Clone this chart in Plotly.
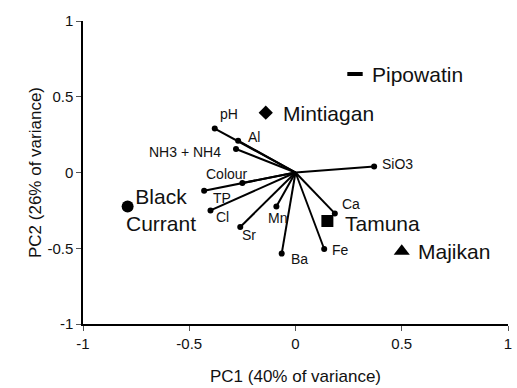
import plotly.graph_objects as go

# ---- data ----
var_names = ["pH", "Al", "NH3 + NH4", "SiO3", "Colour", "TP", "Cl", "Sr", "Mn", "Ba", "Fe", "Ca"]
var_pc1 = [-0.38, -0.27, -0.28, 0.37, -0.25, -0.43, -0.40, -0.26, -0.09, -0.065, 0.135, 0.185]
var_pc2 = [0.29, 0.21, 0.155, 0.04, -0.07, -0.12, -0.25, -0.36, -0.225, -0.535, -0.505, -0.27]

site_names = ["Pipowatin", "Mintiagan", "Black<br>Currant", "Tamuna", "Majikan"]
site_pc1 = [0.28, -0.14, -0.79, 0.15, 0.50]
site_pc2 = [0.65, 0.395, -0.225, -0.32, -0.52]
site_symbols = ["line-ew", "diamond", "circle", "square", "triangle-up"]

tick_vals = [-1, -0.5, 0, 0.5, 1]
tick_text = ["-1", "-0.5", "0", "0.5", "1"]

x_title = "PC1 (40% of variance)"
y_title = "PC2 (26% of variance)"

# ---- label styling (pixel offsets) ----
var_label_style = {
    "pH": ("left", 3, 15),
    "Al": ("left", 8, 4),
    "NH3 + NH4": ("right", -13, -3),
    "SiO3": ("left", 6, 2),
    "Colour": ("center", -15, 9),
    "TP": ("left", 7, -7),
    "Cl": ("left", 3, -7),
    "Sr": ("left", 0, -8),
    "Mn": ("center", 1, -11),
    "Ba": ("left", 7, -5),
    "Fe": ("left", 6, -1),
    "Ca": ("left", 5, 9),
}
site_label_style = {
    "Pipowatin": ("left", 15, 0),
    "Mintiagan": ("left", 15, -1),
    "Black<br>Currant": ("center", 33, -3),
    "Tamuna": ("left", 16, -3),
    "Majikan": ("left", 14, 0),
}
site_sizes = {"line-ew": 11, "diamond": 11, "circle": 12, "square": 12, "triangle-up": 14}

FONT = "Liberation Sans, Arial, sans-serif"

fig = go.Figure()

# vectors
lx, ly = [], []
for x, y in zip(var_pc1, var_pc2):
    lx += [0, x, None]
    ly += [0, y, None]
fig.add_trace(go.Scatter(x=lx, y=ly, mode="lines", line=dict(color="black", width=2),
                         hoverinfo="skip", showlegend=False))
fig.add_trace(go.Scatter(x=var_pc1, y=var_pc2, mode="markers",
                         marker=dict(color="black", size=6), text=var_names,
                         showlegend=False))

# sites
for n, x, y, s in zip(site_names, site_pc1, site_pc2, site_symbols):
    if s == "line-ew":
        mk = dict(symbol=s, size=site_sizes[s], color="black", line=dict(color="black", width=4))
    else:
        mk = dict(symbol=s, size=site_sizes[s], color="black", line=dict(width=0))
    fig.add_trace(go.Scatter(x=[x], y=[y], mode="markers", marker=mk, name=n, showlegend=False))

ann = []
for n, x, y in zip(var_names, var_pc1, var_pc2):
    a, dx, dy = var_label_style[n]
    ann.append(dict(x=x, y=y, xref="x", yref="y", text=n, showarrow=False,
                    xanchor=a, yanchor="middle", xshift=dx, yshift=dy,
                    font=dict(family=FONT, size=14, color="#111")))
for n, x, y in zip(site_names, site_pc1, site_pc2):
    a, dx, dy = site_label_style[n]
    ann.append(dict(x=x, y=y, xref="x", yref="y", text=n, showarrow=False,
                    xanchor=a, yanchor="middle", xshift=dx, yshift=dy, align="center",
                    font=dict(family=FONT, size=21, color="#111")))

axis_common = dict(range=[-1, 1], tickvals=tick_vals, ticktext=tick_text,
                   showgrid=False, zeroline=False, showline=True, linecolor="black",
                   linewidth=1.5, ticks="outside", ticklen=5, tickcolor="#555", tickwidth=1,
                   tickfont=dict(family=FONT, size=15, color="#111"))

fig.update_layout(
    width=517, height=388,
    margin=dict(l=83, r=5, t=21, b=64),
    paper_bgcolor="white", plot_bgcolor="white",
    xaxis=dict(**axis_common, title=dict(text=x_title, standoff=19,
               font=dict(family=FONT, size=17, color="#111"))),
    yaxis=dict(**axis_common, title=dict(text=y_title, standoff=1,
               font=dict(family=FONT, size=17, color="#111"))),
    annotations=ann,
    showlegend=False,
)

fig.write_html("out.html")
